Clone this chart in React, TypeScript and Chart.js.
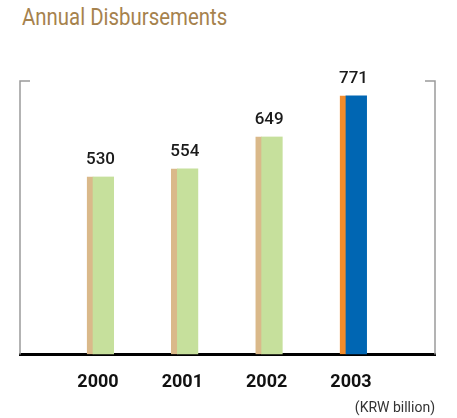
import React, { useEffect, useRef } from 'react';
import { Chart, registerables } from 'chart.js';

Chart.register(...registerables);

const titleText = 'Annual Disbursements';
const unitText = '(KRW billion)';
const categories = ['2000', '2001', '2002', '2003'];
const disbursements = [530, 554, 649, 771];
const fillColors = ['#c6e09c', '#c6e09c', '#c6e09c', '#0066b3'];
const edgeColors = ['#dab98a', '#dab98a', '#dab98a', '#f28c2c'];

const framePlugin = {
  id: 'frame',
  beforeDatasetsDraw(chart: any) {
    const { ctx, chartArea } = chart;
    const { left, right, top, bottom } = chartArea;
    ctx.save();
    ctx.strokeStyle = '#9a9a9a';
    ctx.lineWidth = 1.5;
    ctx.beginPath();
    ctx.moveTo(left + 10, top);
    ctx.lineTo(left, top);
    ctx.lineTo(left, bottom);
    ctx.moveTo(right - 10, top);
    ctx.lineTo(right, top);
    ctx.lineTo(right, bottom);
    ctx.stroke();
    ctx.restore();
  },
};

const valueLabelPlugin = {
  id: 'valueLabels',
  afterDatasetsDraw(chart: any) {
    const { ctx } = chart;
    const meta = chart.getDatasetMeta(0);
    ctx.save();
    ctx.font = '500 17px Roboto';
    ctx.fillStyle = '#1a1a1a';
    ctx.textAlign = 'center';
    ctx.textBaseline = 'middle';
    meta.data.forEach((bar: any, i: number) => {
      ctx.fillText(String(disbursements[i]), bar.x, bar.y - 17);
    });
    ctx.restore();
  },
};

export default function App() {
  const canvasRef = useRef<HTMLCanvasElement | null>(null);

  useEffect(() => {
    if (!canvasRef.current) return;
    const chart = new Chart(canvasRef.current, {
      type: 'bar',
      data: {
        datasets: [
          {
            data: categories.map((_, i) => ({ x: i, y: disbursements[i] })),
            backgroundColor: fillColors,
            borderColor: edgeColors,
            borderWidth: { left: 6, top: 0, right: 0, bottom: 0 },
            borderSkipped: false,
            barThickness: 27,
          },
        ],
      },
      options: {
        responsive: false,
        animation: false,
        devicePixelRatio: 1,
        layout: { padding: { top: 81, left: 20, right: 22, bottom: 0 } },
        plugins: {
          legend: { display: false },
          tooltip: { enabled: false },
        },
        scales: {
          x: {
            type: 'linear',
            offset: false,
            min: -0.955,
            max: 3.967,
            grid: { display: false, drawTicks: false },
            border: { display: true, color: '#000000', width: 3 },
            ticks: {
              stepSize: 1,
              includeBounds: false,
              autoSkip: false,
              maxRotation: 0,
              padding: 17,
              labelOffset: -2.5,
              color: '#111111',
              font: { family: 'Roboto', size: 18, weight: 'bold' },
              callback: (v: any) => (categories[v as number] ?? ''),
            },
            title: {
              display: true,
              text: unitText,
              align: 'end',
              color: '#333333',
              font: { family: 'Roboto', size: 14 },
              padding: { top: -10, bottom: 1 },
            },
          },
          y: {
            display: false,
            min: 0,
            max: 814,
          },
        },
      },
      plugins: [framePlugin, valueLabelPlugin],
    } as any);
    return () => chart.destroy();
  }, []);

  return (
    <div style={{ position: 'absolute', left: 0, top: 0, width: 457, height: 418, background: '#fff' }}>
      <div
        style={{
          position: 'absolute',
          left: 22,
          top: 5,
          fontFamily: 'Roboto',
          fontSize: 24,
          lineHeight: 1,
          color: '#a6824d',
          whiteSpace: 'nowrap',
          transform: 'scaleX(0.85)',
          transformOrigin: 'left top',
        }}
      >
        {titleText}
      </div>
      <canvas ref={canvasRef} width={457} height={418} style={{ position: 'absolute', left: 0, top: 0 }} />
    </div>
  );
}
